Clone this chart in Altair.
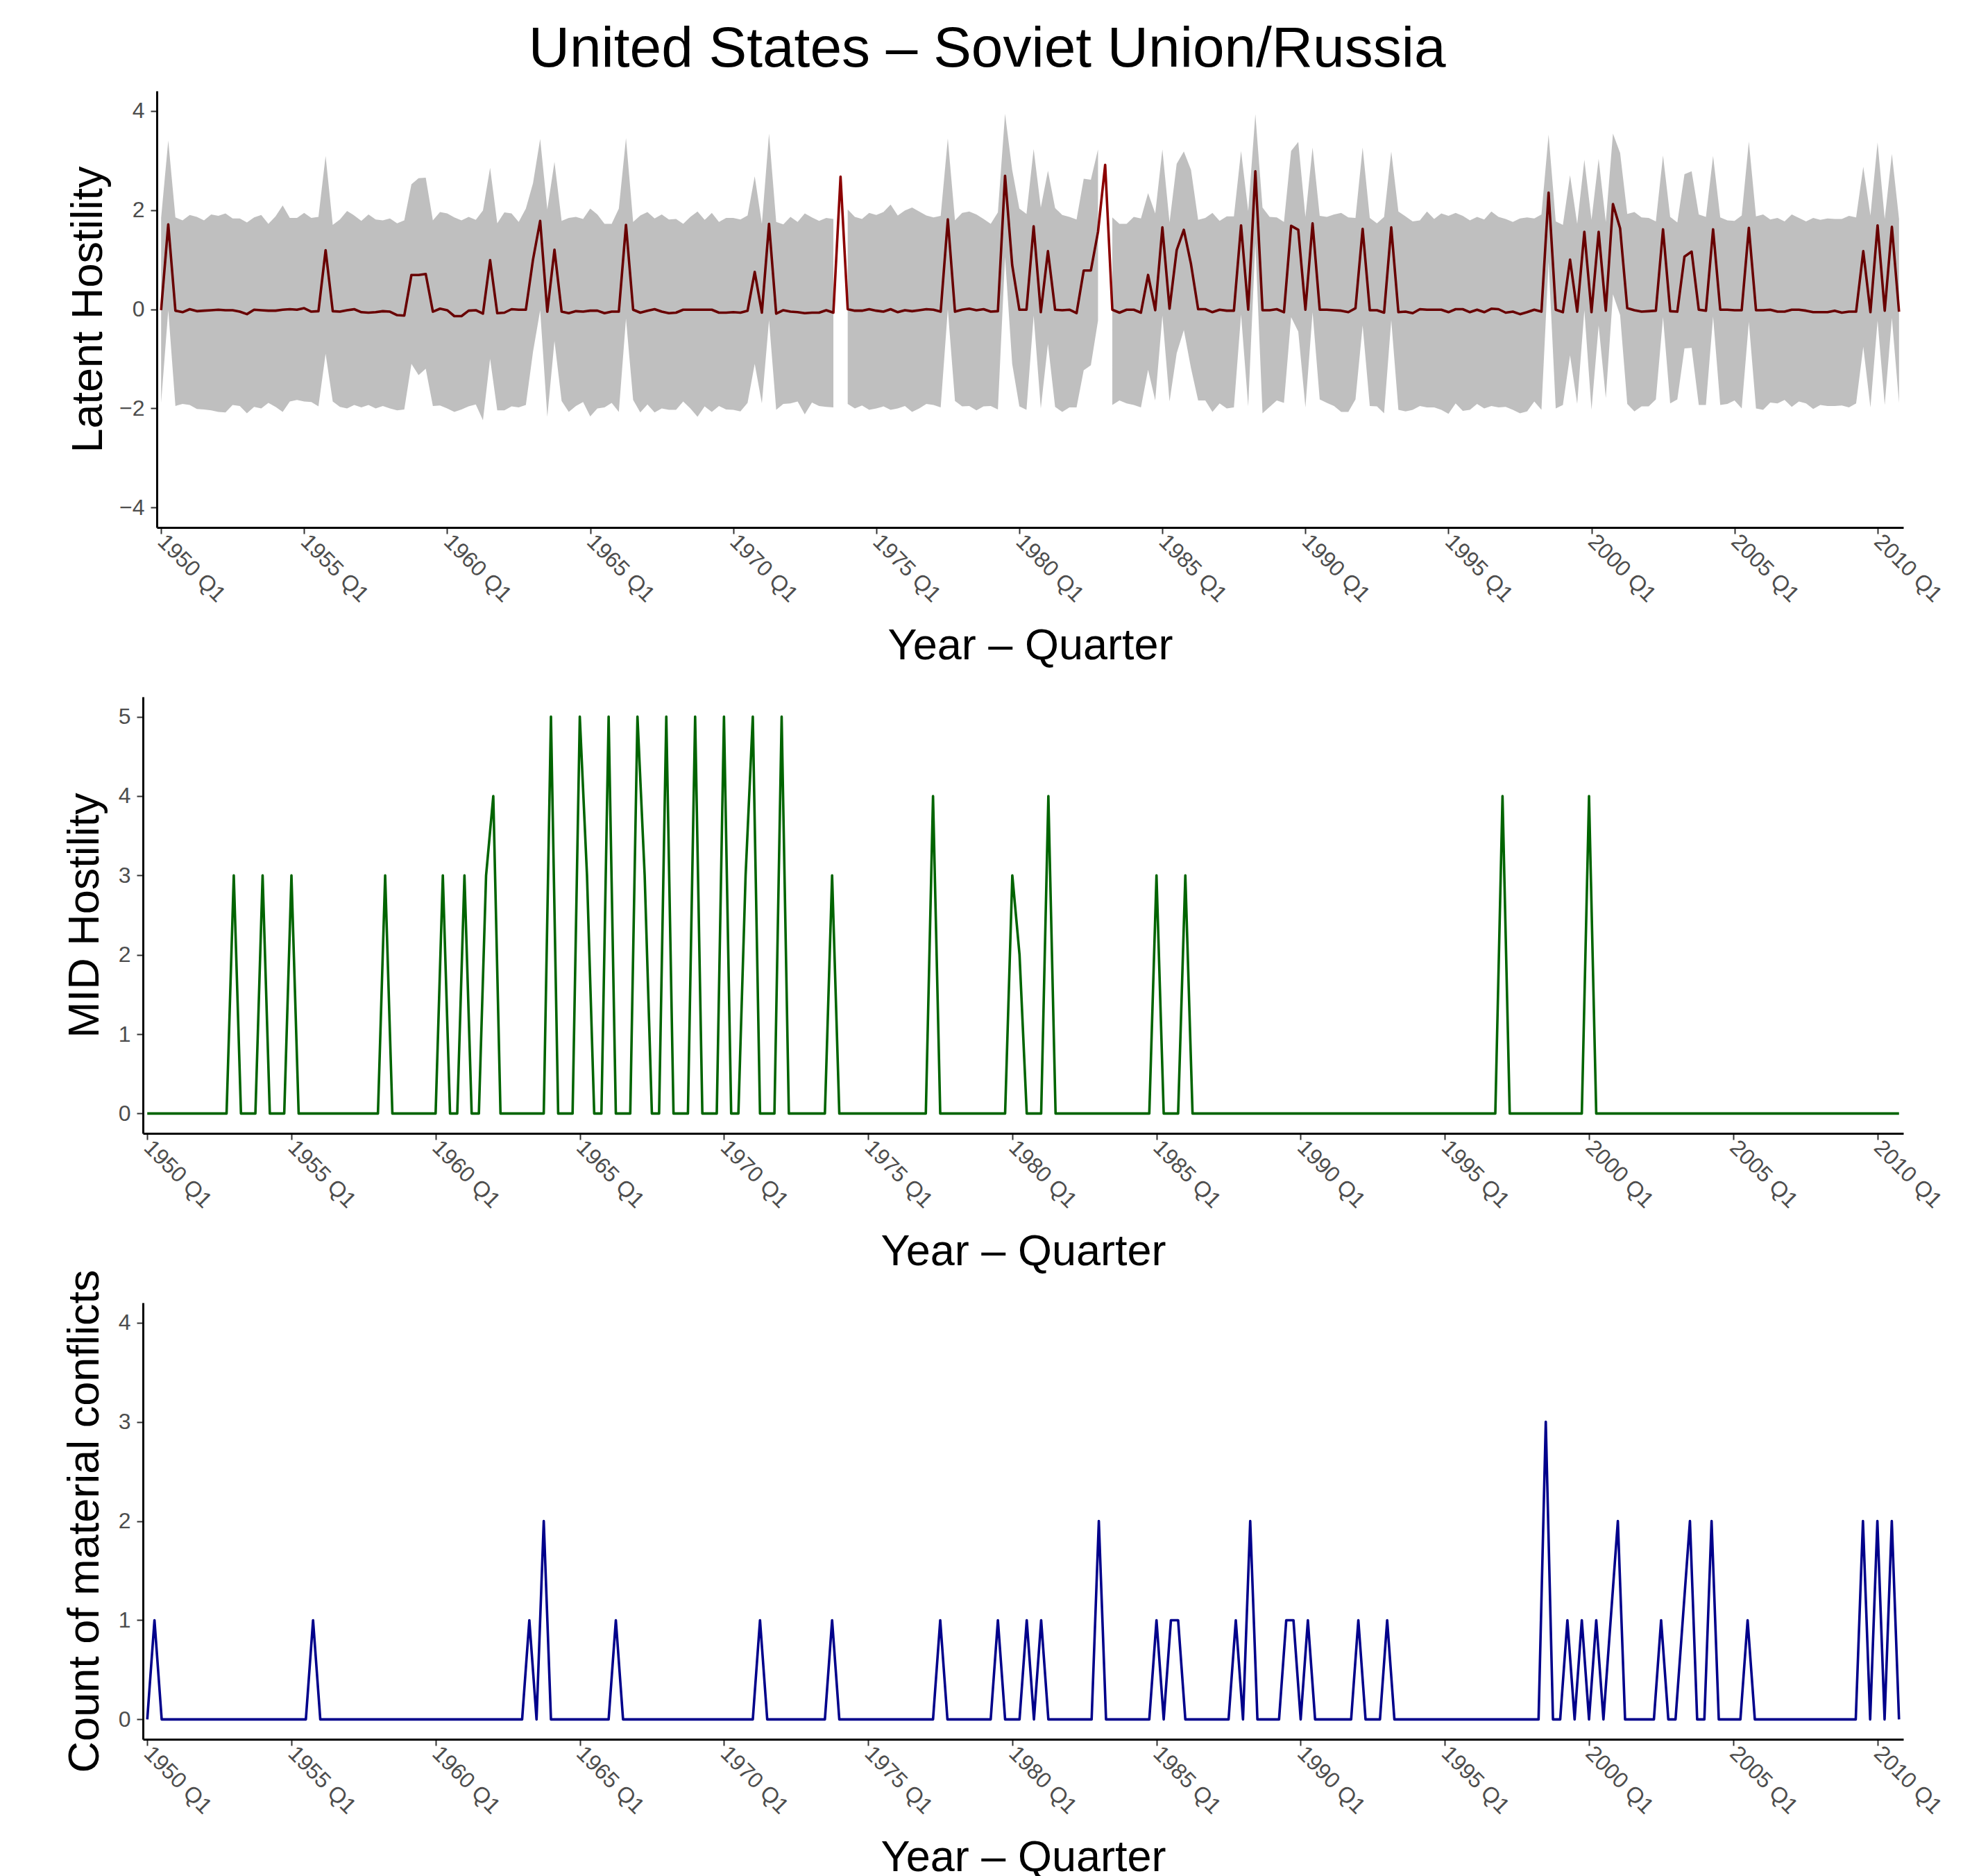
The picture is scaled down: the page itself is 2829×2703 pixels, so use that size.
import altair as alt
import pandas as pd

# ---------------- data (quarterly, 1950 Q1 .. 2010 Q4) ----------------
quarter_index = list(range(244))

latent_mean = [
    -0.02, 1.71, -0.03, -0.06, 0.00, -0.04, -0.03, -0.02, -0.01, -0.02, -0.02, -0.05, -0.10, -0.01, -0.02, -0.03, -0.03, -0.01, 0.00, -0.01,
    0.02, -0.05, -0.04, 1.19, -0.04, -0.05, -0.02, 0.00, -0.06, -0.07, -0.06, -0.04, -0.05, -0.12, -0.13, 0.69, 0.69, 0.71, -0.05, 0.01,
    -0.02, -0.14, -0.14, -0.03, -0.02, -0.09, 0.99, -0.08, -0.07, 0.00, -0.01, -0.01, 1.00, 1.78, -0.05, 1.20, -0.05, -0.08, -0.04, -0.05,
    -0.03, -0.03, -0.08, -0.05, -0.05, 1.70, -0.01, -0.07, -0.03, 0.00, -0.05, -0.08, -0.07, -0.01, -0.01, -0.01, -0.01, -0.01, -0.07, -0.07,
    -0.06, -0.07, -0.03, 0.75, -0.07, 1.72, -0.09, -0.02, -0.05, -0.06, -0.08, -0.07, -0.07, -0.02, -0.07, 2.67, 0.00, -0.03, -0.03, 0.00,
    -0.03, -0.05, 0.00, -0.06, -0.02, -0.04, -0.02, 0.00, -0.01, -0.05, 1.81, -0.05, -0.01, 0.01, -0.02, 0.00, -0.05, -0.04, 2.69, 0.89,
    -0.01, -0.01, 1.67, -0.06, 1.17, -0.01, -0.02, -0.01, -0.08, 0.78, 0.78, 1.56, 2.91, -0.01, -0.07, -0.01, -0.01, -0.07, 0.69, -0.02,
    1.65, 0.01, 1.19, 1.60, 0.91, 0.00, 0.00, -0.06, -0.01, -0.03, -0.03, 1.69, -0.01, 2.78, -0.02, -0.02, 0.00, -0.06, 1.68, 1.60,
    -0.01, 1.73, -0.01, -0.01, -0.02, -0.03, -0.06, 0.02, 1.62, -0.02, -0.02, -0.07, 1.65, -0.06, -0.05, -0.08, 0.00, -0.01, -0.01, -0.01,
    -0.06, 0.00, 0.00, -0.06, -0.01, -0.06, 0.01, 0.00, -0.07, -0.05, -0.10, -0.06, -0.01, -0.05, 2.35, -0.01, -0.06, 1.00, -0.05, 1.56,
    -0.06, 1.56, -0.03, 2.12, 1.63, 0.02, -0.02, -0.05, -0.04, -0.03, 1.61, -0.04, -0.05, 1.06, 1.16, -0.01, -0.03, 1.61, -0.01, -0.01,
    -0.02, -0.02, 1.64, -0.02, -0.02, -0.01, -0.05, -0.05, -0.01, -0.01, -0.03, -0.06, -0.06, -0.06, -0.03, -0.07, -0.05, -0.05, 1.17, -0.06,
    1.69, -0.03, 1.66, -0.05,
]

latent_upper = [
    1.84, 3.40, 1.85, 1.79, 1.90, 1.86, 1.79, 1.91, 1.88, 1.93, 1.83, 1.83, 1.75, 1.85, 1.90, 1.72, 1.87, 2.09, 1.84, 1.84,
    1.94, 1.84, 1.86, 3.09, 1.70, 1.81, 1.98, 1.89, 1.78, 1.91, 1.81, 1.79, 1.83, 1.73, 1.79, 2.52, 2.64, 2.65, 1.79, 1.96,
    1.93, 1.85, 1.79, 1.86, 1.80, 1.99, 2.85, 1.73, 1.95, 1.93, 1.76, 2.03, 2.54, 3.43, 2.01, 2.97, 1.78, 1.84, 1.86, 1.82,
    2.03, 1.91, 1.72, 1.72, 2.03, 3.45, 1.76, 1.89, 1.96, 1.83, 1.91, 1.81, 1.82, 1.72, 1.86, 1.97, 1.80, 1.94, 1.76, 1.84,
    1.84, 1.81, 1.89, 2.68, 1.72, 3.54, 1.76, 1.71, 1.86, 1.76, 1.93, 1.85, 1.78, 1.84, 1.82, None, 2.01, 1.86, 1.82, 1.94,
    1.90, 1.96, 2.11, 1.89, 1.99, 2.05, 1.97, 1.89, 1.85, 1.88, 3.44, 1.79, 1.94, 1.97, 1.91, 1.82, 1.72, 1.95, 3.94, 2.81,
    2.03, 1.92, 3.23, 2.05, 2.79, 2.04, 1.90, 1.86, 1.81, 2.63, 2.61, 3.22, None, 1.85, 1.72, 1.72, 1.86, 1.83, 2.34, 1.93,
    3.22, 1.75, 2.93, 3.18, 2.81, 1.80, 1.84, 1.94, 1.78, 1.87, 1.87, 3.19, 1.98, 3.93, 2.05, 1.86, 1.85, 1.76, 3.19, 3.37,
    1.86, 3.26, 1.88, 1.86, 1.91, 1.94, 1.85, 1.84, 3.26, 1.84, 1.73, 1.86, 3.18, 1.97, 1.87, 1.77, 1.79, 1.97, 1.82, 1.93,
    1.88, 1.94, 1.88, 1.79, 1.86, 1.81, 1.97, 1.86, 1.82, 1.76, 1.83, 1.85, 1.83, 1.91, 3.52, 1.77, 1.70, 2.70, 1.72, 3.01,
    1.80, 3.03, 1.76, 3.54, 3.15, 1.92, 1.96, 1.85, 1.84, 1.77, 3.10, 1.86, 1.75, 2.72, 2.78, 1.91, 1.86, 3.09, 1.85, 1.79,
    1.78, 1.89, 3.38, 1.87, 1.91, 1.81, 1.84, 1.77, 1.91, 1.84, 1.77, 1.84, 1.80, 1.83, 1.82, 1.82, 1.88, 1.85, 2.87, 1.89,
    3.36, 1.82, 3.13, 1.82,
]

latent_lower = [
    -1.89, -0.02, -1.95, -1.91, -1.93, -2.01, -2.02, -2.04, -2.07, -2.08, -1.93, -1.95, -2.10, -1.97, -2.00, -1.89, -1.97, -2.07, -1.86, -1.83,
    -1.86, -1.87, -1.96, -0.90, -1.86, -1.97, -2.00, -1.93, -1.98, -1.93, -2.00, -1.95, -2.00, -2.04, -2.02, -1.10, -1.33, -1.20, -1.95, -1.94,
    -2.00, -2.07, -2.02, -1.96, -1.92, -2.24, -1.00, -2.04, -2.04, -1.96, -1.98, -1.93, -0.86, -0.02, -2.17, -0.64, -1.85, -2.07, -1.95, -1.87,
    -2.16, -2.00, -1.98, -1.89, -2.07, -0.19, -1.83, -2.08, -1.92, -2.08, -2.00, -2.03, -2.03, -1.86, -2.00, -2.17, -1.96, -2.07, -1.95, -2.02,
    -2.03, -2.06, -1.89, -1.10, -1.90, -0.22, -2.03, -1.91, -1.90, -1.86, -2.12, -1.88, -1.95, -1.97, -1.98, None, -1.91, -2.00, -1.94, -2.03,
    -2.00, -1.96, -2.03, -2.00, -1.95, -2.07, -2.00, -1.91, -1.93, -1.98, 0.00, -1.85, -1.96, -1.95, -2.04, -1.96, -1.95, -2.02, 1.05, -1.10,
    -1.96, -2.03, -0.13, -2.00, -0.70, -1.97, -2.07, -1.98, -1.98, -1.23, -1.13, -0.23, None, -1.93, -1.84, -1.90, -1.93, -1.98, -1.22, -1.84,
    -0.13, -1.86, -0.89, -0.42, -1.19, -1.84, -1.84, -2.07, -1.90, -2.00, -1.98, -0.11, -1.96, 1.33, -2.10, -1.97, -1.84, -1.89, -0.16, -0.45,
    -1.98, -0.06, -1.82, -1.89, -1.95, -2.07, -2.07, -1.82, -0.33, -1.95, -1.96, -2.10, -0.22, -2.03, -2.06, -2.03, -1.95, -1.98, -1.98, -2.03,
    -2.11, -1.90, -2.05, -2.03, -1.91, -2.00, -1.95, -1.98, -1.97, -2.03, -2.10, -2.06, -1.86, -2.03, 0.96, -2.00, -1.93, -0.93, -1.91, -0.02,
    -2.03, -0.33, -1.79, 0.30, -0.12, -1.91, -2.06, -1.96, -1.96, -1.82, -0.16, -1.90, -1.82, -0.79, -0.78, -1.93, -1.93, -0.15, -1.93, -1.91,
    -1.84, -2.00, -0.26, -2.00, -2.03, -1.88, -1.90, -1.83, -1.97, -1.86, -1.90, -2.01, -1.93, -1.95, -1.95, -1.94, -1.98, -1.90, -0.76, -1.98,
    -0.23, -1.93, -0.18, -1.89,
]

mid_hostility = [
    0, 0, 0, 0, 0, 0, 0, 0, 0, 0, 0, 0, 3, 0, 0, 0, 3, 0, 0, 0,
    3, 0, 0, 0, 0, 0, 0, 0, 0, 0, 0, 0, 0, 3, 0, 0, 0, 0, 0, 0,
    0, 3, 0, 0, 3, 0, 0, 3, 4, 0, 0, 0, 0, 0, 0, 0, 5, 0, 0, 0,
    5, 3, 0, 0, 5, 0, 0, 0, 5, 3, 0, 0, 5, 0, 0, 0, 5, 0, 0, 0,
    5, 0, 0, 3, 5, 0, 0, 0, 5, 0, 0, 0, 0, 0, 0, 3, 0, 0, 0, 0,
    0, 0, 0, 0, 0, 0, 0, 0, 0, 4, 0, 0, 0, 0, 0, 0, 0, 0, 0, 0,
    3, 2, 0, 0, 0, 4, 0, 0, 0, 0, 0, 0, 0, 0, 0, 0, 0, 0, 0, 0,
    3, 0, 0, 0, 3, 0, 0, 0, 0, 0, 0, 0, 0, 0, 0, 0, 0, 0, 0, 0,
    0, 0, 0, 0, 0, 0, 0, 0, 0, 0, 0, 0, 0, 0, 0, 0, 0, 0, 0, 0,
    0, 0, 0, 0, 0, 0, 0, 0, 4, 0, 0, 0, 0, 0, 0, 0, 0, 0, 0, 0,
    4, 0, 0, 0, 0, 0, 0, 0, 0, 0, 0, 0, 0, 0, 0, 0, 0, 0, 0, 0,
    0, 0, 0, 0, 0, 0, 0, 0, 0, 0, 0, 0, 0, 0, 0, 0, 0, 0, 0, 0,
    0, 0, 0, 0,
]

material_conflicts = [
    0, 1, 0, 0, 0, 0, 0, 0, 0, 0, 0, 0, 0, 0, 0, 0, 0, 0, 0, 0,
    0, 0, 0, 1, 0, 0, 0, 0, 0, 0, 0, 0, 0, 0, 0, 0, 0, 0, 0, 0,
    0, 0, 0, 0, 0, 0, 0, 0, 0, 0, 0, 0, 0, 1, 0, 2, 0, 0, 0, 0,
    0, 0, 0, 0, 0, 1, 0, 0, 0, 0, 0, 0, 0, 0, 0, 0, 0, 0, 0, 0,
    0, 0, 0, 0, 0, 1, 0, 0, 0, 0, 0, 0, 0, 0, 0, 1, 0, 0, 0, 0,
    0, 0, 0, 0, 0, 0, 0, 0, 0, 0, 1, 0, 0, 0, 0, 0, 0, 0, 1, 0,
    0, 0, 1, 0, 1, 0, 0, 0, 0, 0, 0, 0, 2, 0, 0, 0, 0, 0, 0, 0,
    1, 0, 1, 1, 0, 0, 0, 0, 0, 0, 0, 1, 0, 2, 0, 0, 0, 0, 1, 1,
    0, 1, 0, 0, 0, 0, 0, 0, 1, 0, 0, 0, 1, 0, 0, 0, 0, 0, 0, 0,
    0, 0, 0, 0, 0, 0, 0, 0, 0, 0, 0, 0, 0, 0, 3, 0, 0, 1, 0, 1,
    0, 1, 0, 1, 2, 0, 0, 0, 0, 0, 1, 0, 0, 1, 2, 0, 0, 2, 0, 0,
    0, 0, 1, 0, 0, 0, 0, 0, 0, 0, 0, 0, 0, 0, 0, 0, 0, 0, 2, 0,
    2, 0, 2, 0,
]

x_tick_values = [0, 20, 40, 60, 80, 100, 120, 140, 160, 180, 200, 220, 240]

df = pd.DataFrame({
    "q": quarter_index,
    "mean": latent_mean,
    "lower": latent_lower,
    "upper": latent_upper,
    "mid": mid_hostility,
    "mat": material_conflicts,
})

# ---------------- styling ----------------
FONT = "Liberation Sans"
W = 2537
H = 629
SHIFT1 = 20
TICK_FS = 32
LW = 3.6
LABEL_EXPR = "(1950 + floor(datum.value / 4)) + ' Q' + (datum.value % 4 + 1)"


def x_axis():
    return alt.Axis(
        values=x_tick_values, labelExpr=LABEL_EXPR, labelAngle=45,
        labelAlign="left", labelBaseline="middle", labelFontSize=TICK_FS,
        labelColor="#4D4D4D", labelFont=FONT, labelPadding=6, labelOverlap=False,
        tickSize=9, tickWidth=2, tickColor="#333333",
        domainColor="black", domainWidth=3, grid=False,
        title="Year \u2013 Quarter", titleFont=FONT, titleFontSize=63,
        titleFontWeight="normal", titleColor="black", titlePadding=26,
    )


def y_axis(title, values, title_pad, offset=0):
    return alt.Axis(
        values=values, format="d", labelFontSize=TICK_FS, labelColor="#4D4D4D",
        labelFont=FONT, labelPadding=9, tickSize=9, tickWidth=2, tickColor="#333333",
        domainColor="black", domainWidth=3, grid=False, offset=offset,
        title=title, titleFont=FONT, titleFontSize=63, titleFontWeight="normal",
        titleColor="black", titlePadding=title_pad,
    )


x_scale_1 = alt.Scale(domain=[-0.6, 243.6], nice=False, zero=False, range=[SHIFT1, W])
x_scale = alt.Scale(domain=[-0.6, 243.6], nice=False, zero=False)

base = alt.Chart(df)

line1 = base.mark_line(color="#8B0000", strokeWidth=LW, strokeJoin="round").encode(
    x=alt.X("q:Q", scale=x_scale_1, axis=x_axis()),
    y=alt.Y("mean:Q", scale=alt.Scale(domain=[-4.4, 4.4], nice=False, zero=False),
            axis=y_axis("Latent Hostility", [-4, -2, 0, 2, 4], 12, offset=-SHIFT1)),
)
band1 = base.mark_area(color="black", opacity=0.25).encode(
    x=alt.X("q:Q", scale=x_scale_1),
    y=alt.Y("lower:Q"),
    y2="upper:Q",
)
panel1 = alt.layer(line1, band1).properties(width=W, height=H)

panel2 = base.mark_line(color="#006400", strokeWidth=LW, strokeJoin="round").encode(
    x=alt.X("q:Q", scale=x_scale, axis=x_axis()),
    y=alt.Y("mid:Q", scale=alt.Scale(domain=[-0.25, 5.25], nice=False, zero=False),
            axis=y_axis("MID Hostility", [0, 1, 2, 3, 4, 5], 16)),
).properties(width=W, height=H)

panel3 = base.mark_line(color="#00008B", strokeWidth=LW, strokeJoin="round").encode(
    x=alt.X("q:Q", scale=x_scale, axis=x_axis()),
    y=alt.Y("mat:Q", scale=alt.Scale(domain=[-0.2, 4.2], nice=False, zero=False),
            axis=y_axis("Count of material conflicts", [0, 1, 2, 3, 4], 16)),
).properties(width=W, height=H)

chart = alt.vconcat(panel1, panel2, panel3, spacing=244, bounds="flush").properties(
    title=alt.TitleParams(
        "United States \u2013 Soviet Union/Russia", font=FONT, fontSize=82,
        fontWeight="normal", color="black", anchor="middle", offset=18, dx=-25,
    ),
    padding={"left": 83, "top": 22, "right": 5, "bottom": 5},
).configure(background="white", view=alt.ViewConfig(stroke="transparent", strokeWidth=0))

chart.save("out.html", embed_options={"renderer": "svg", "actions": False})
